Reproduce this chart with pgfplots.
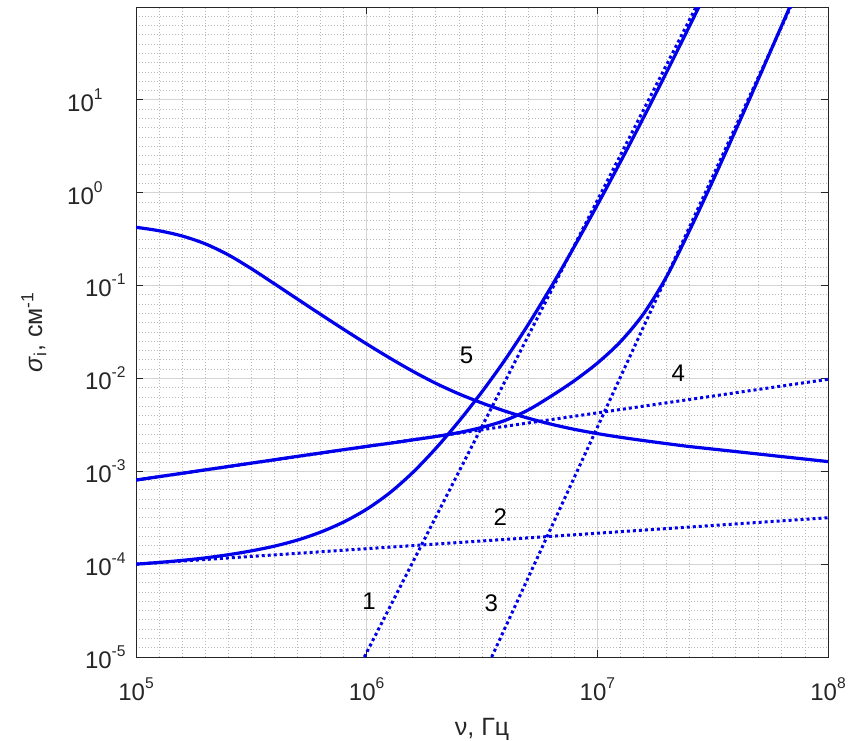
\documentclass[border=0pt]{standalone}
\usepackage{fontspec}
\setmainfont{Liberation Sans}
\usepackage{pgfplots}
\pgfplotsset{compat=1.18}
\definecolor{lc}{RGB}{0,0,235}
\definecolor{axc}{RGB}{38,38,38}
\newcommand{\tl}[1]{10\raisebox{0.5em}{\fontsize{7.8}{9}\selectfont #1}}
\begin{document}
\begin{tikzpicture}
\useasboundingbox (-68pt,-41.5pt) rectangle (357.5pt,328.5pt);
\begin{axis}[
  at={(0,0)}, anchor=south west,
  scale only axis, width=346pt, height=325pt,
  xmode=log, ymode=log,
  xmin=1e5, xmax=1e8, ymin=1e-5, ymax=100,
  xtick={1e5,1e6,1e7,1e8},
  xticklabels={\tl{5},\tl{6},\tl{7},\tl{8}},
  ytick={1e-5,1e-4,1e-3,1e-2,1e-1,1,10},
  yticklabels={\tl{-5},\tl{-4},\tl{-3},\tl{-2},\tl{-1},\tl{0}\hspace*{11.5pt},\tl{1}\hspace*{11.5pt}},
  minor xtick={1.2589e5,1.5849e5,1.9953e5,2.5119e5,3.1623e5,3.9811e5,5.0119e5,6.3096e5,7.9433e5,
               1.2589e6,1.5849e6,1.9953e6,2.5119e6,3.1623e6,3.9811e6,5.0119e6,6.3096e6,7.9433e6,
               1.2589e7,1.5849e7,1.9953e7,2.5119e7,3.1623e7,3.9811e7,5.0119e7,6.3096e7,7.9433e7},
  minor ytick={1.2589e-5,1.5849e-5,1.9953e-5,2.5119e-5,3.1623e-5,3.9811e-5,5.0119e-5,6.3096e-5,7.9433e-5,
               1.2589e-4,1.5849e-4,1.9953e-4,2.5119e-4,3.1623e-4,3.9811e-4,5.0119e-4,6.3096e-4,7.9433e-4,
               1.2589e-3,1.5849e-3,1.9953e-3,2.5119e-3,3.1623e-3,3.9811e-3,5.0119e-3,6.3096e-3,7.9433e-3,
               1.2589e-2,1.5849e-2,1.9953e-2,2.5119e-2,3.1623e-2,3.9811e-2,5.0119e-2,6.3096e-2,7.9433e-2,
               1.2589e-1,1.5849e-1,1.9953e-1,2.5119e-1,3.1623e-1,3.9811e-1,5.0119e-1,6.3096e-1,7.9433e-1,
               1.2589,1.5849,1.9953,2.5119,3.1623,3.9811,5.0119,6.3096,7.9433,
               12.589,15.849,19.953,25.119,31.623,39.811,50.119,63.096,79.433},
  grid=both,
  major grid style={solid, color=black!17, line width=0.5pt},
  minor grid style={dash pattern=on 0.5pt off 1pt, color=black!28, line width=0.4pt},
  tick align=inside,
  major tick length=3.5pt,
  minor tick length=0pt,
  axis line style={color=axc, line width=0.5pt},
  every tick/.style={color=axc, line width=0.5pt},
  tick label style={font=\fontsize{12}{14}\selectfont, color=axc},
  xticklabel style={inner sep=0pt, anchor=north, yshift=-10pt},
  yticklabel style={inner sep=0pt, anchor=east, xshift=-5pt},
  xlabel={ν, Гц},
  ylabel={\textit{σ}\textsubscript{i}, см\textsuperscript{-1}},
  every axis x label/.style={at={(axis description cs:0.5,-0.12)}, anchor=base, font=\fontsize{12.5}{15}\selectfont, color=axc},
  every axis y label/.style={at={(axis description cs:-0.1358,0.5)}, rotate=90, anchor=base, font=\fontsize{12.5}{15}\selectfont, color=axc},
]
% dotted asymptotes 1-4
\addplot[lc, line width=1.5pt, dash pattern=on 1.5pt off 1.5pt] coordinates {(9.77e5,1e-5) (2.678e7,100)};
\addplot[lc, line width=1.5pt, dash pattern=on 1.5pt off 1.5pt] coordinates {(1e5,1e-4) (1e8,3.16e-4)};
\addplot[lc, line width=1.5pt, dash pattern=on 1.5pt off 1.5pt] coordinates {(3.483e6,1e-5) (6.887e7,100)};
\addplot[lc, line width=1.5pt, dash pattern=on 1.5pt off 1.5pt] coordinates {(1e5,8.05e-4) (1e8,9.79e-3)};
% solid curve (decreasing)
\addplot[lc, line width=1.6pt, smooth] coordinates {
 (1e5,0.4246) (1.2589e5,0.3895) (1.5849e5,0.3420) (1.9953e5,0.2818) (2.5119e5,0.2143)
 (3.1623e5,0.1521) (3.9811e5,0.1046) (5.0119e5,0.07155) (6.3096e5,0.04903) (7.9433e5,0.03381)
 (1e6,0.02352) (1.2589e6,0.01660) (1.5849e6,0.01194) (1.9953e6,0.008851) (2.5119e6,0.006816)
 (3.1623e6,0.005433) (3.9811e6,0.004446) (5.0119e6,0.003733) (6.3096e6,0.003214) (7.9433e6,0.002831)
 (1e7,0.002547) (1.2589e7,0.002325) (1.5849e7,0.002143) (1.9953e7,0.001986) (2.5119e7,0.001847)
 (3.1623e7,0.001736) (3.9811e7,0.001631) (5.0119e7,0.001533) (6.3096e7,0.001440) (7.9433e7,0.001354)
 (1e8,0.001272)};
% solid curve from 1e-4 (2 + 1)
\addplot[lc, line width=1.6pt, smooth] coordinates {
 (1e5,1e-4) (1.2589e5,1.0435e-4) (1.5849e5,1.098e-4) (1.9953e5,1.168e-4) (2.5119e5,1.263e-4)
 (3.1623e5,1.390e-4) (3.9811e5,1.563e-4) (5.0119e5,1.818e-4) (6.3096e5,2.211e-4) (7.9433e5,2.841e-4)
 (1e6,3.908e-4) (1.2589e6,5.861e-4) (1.5849e6,9.716e-4) (1.9953e6,1.768e-3) (2.5119e6,3.459e-3)
 (3.1623e6,7.186e-3) (3.9811e6,1.590e-2) (5.0119e6,3.793e-2) (6.3096e6,9.716e-2) (7.9433e6,0.2627)
 (1e7,0.7386) (1.2589e7,2.146) (1.5849e7,6.427) (1.9953e7,19.82) (2.5119e7,62.66) (3.1623e7,201.6)};
% solid curve from 8e-4 (4 + 3)
\addplot[lc, line width=1.6pt, smooth] coordinates {
 (1e5,8.05e-4) (3.1623e5,1.2246e-3) (6.3096e5,1.574e-3) (1e6,1.854e-3) (1.2589e6,2.004e-3)
 (1.5849e6,2.178e-3) (1.9953e6,2.371e-3) (2.5119e6,2.612e-3) (3.1623e6,2.972e-3) (3.9811e6,3.532e-3)
 (5.0119e6,4.571e-3) (6.3096e6,6.457e-3) (7.9433e6,9.441e-3) (1e7,1.462e-2) (1.2589e7,2.483e-2)
 (1.5849e7,4.955e-2) (1.9953e7,0.1245) (2.5119e7,0.3936) (3.1623e7,1.334) (3.9811e7,4.732)
 (5.0119e7,17.18) (6.3096e7,63.83) (7.9433e7,237.1)};
% curve labels
\node[font=\fontsize{12}{14}\selectfont] at (axis cs:2.713e6,1.754e-2) {5};
\node[font=\fontsize{12}{14}\selectfont] at (axis cs:2.243e7,1.135e-2) {4};
\node[font=\fontsize{12}{14}\selectfont] at (axis cs:3.794e6,3.24e-4) {2};
\node[font=\fontsize{12}{14}\selectfont] at (axis cs:1.025e6,3.94e-5) {1};
\node[font=\fontsize{12}{14}\selectfont] at (axis cs:3.465e6,3.75e-5) {3};
\end{axis}
\end{tikzpicture}
\end{document}
